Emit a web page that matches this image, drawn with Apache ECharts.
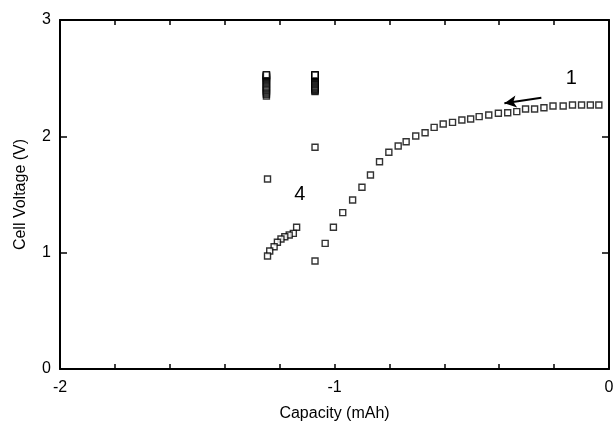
<!DOCTYPE html>
<html>
<head>
<meta charset="utf-8">
<script src="https://cdn.jsdelivr.net/npm/echarts@6/dist/echarts.min.js"></script>
<style>
html,body{margin:0;padding:0;background:#fff;}
#chart{width:616px;height:423px;}
</style>
</head>
<body>
<div id="chart"></div>
<script>
// Cycle 1 discharge: capacity (mAh) and cell voltage (V)
var cycle1Capacity = [-0.037,-0.068,-0.100,-0.133,-0.167,-0.204,-0.237,-0.271,-0.304,-0.336,-0.369,-0.403,-0.438,-0.473,-0.504,-0.536,-0.570,-0.604,-0.637,-0.670,-0.704,-0.739,-0.768,-0.802,-0.836,-0.869,-0.900,-0.934,-0.970,-1.004,-1.034,-1.071,
  -1.071,-1.071,-1.071,-1.071,-1.071,-1.071,-1.071,-1.071,-1.071,-1.071,-1.071,-1.071,-1.071,-1.071,-1.071,-1.071,-1.071,-1.071,-1.071,-1.071,-1.071,-1.071,-1.071,-1.071,-1.071,-1.071];
var cycle1Voltage = [2.269,2.269,2.269,2.269,2.261,2.261,2.246,2.235,2.235,2.212,2.203,2.198,2.183,2.169,2.149,2.140,2.120,2.106,2.077,2.031,2.003,1.954,1.917,1.863,1.782,1.668,1.562,1.453,1.344,1.218,1.080,0.928,
  1.906,2.384,2.392,2.400,2.408,2.416,2.424,2.432,2.440,2.448,2.456,2.464,2.472,2.480,2.488,2.496,2.502,2.508,2.513,2.517,2.520,2.523,2.525,2.527,2.527,2.527];
// Cycle 4 discharge
var cycle4Capacity = [-1.138,-1.150,-1.165,-1.181,-1.195,-1.208,-1.220,-1.236,-1.244,-1.244,
  -1.248,-1.248,-1.248,-1.248,-1.248,-1.248,-1.248,-1.248,-1.248,-1.248,-1.248,-1.248,-1.248,-1.248,-1.248,-1.248,-1.248,-1.248,-1.248,-1.248,-1.248,-1.248,-1.248];
var cycle4Voltage = [1.218,1.166,1.152,1.137,1.118,1.089,1.051,1.014,0.971,1.633,
  2.347,2.362,2.372,2.382,2.392,2.402,2.412,2.422,2.432,2.442,2.452,2.462,2.472,2.482,2.490,2.498,2.505,2.511,2.516,2.520,2.524,2.527,2.530];
// Annotations
var curveLabels = [{name:'1', x:-0.137, y:2.50}, {name:'4', x:-1.126, y:1.50}];
var arrowFrom = [-0.2465, 2.332];
var arrowTo = [-0.381, 2.284];
var xTickLabels = ['-2','-1','0'];
var yTickLabels = ['0','1','2','3'];

function pairs(xs, ys){ return xs.map(function(x,i){ return [x, ys[i]]; }); }

var FONT = 'Liberation Sans, Arial, Helvetica, sans-serif';
var chart = echarts.init(document.getElementById('chart'), null, {renderer:'canvas'});

function xAxisCfg(pos, showLabel){
  return {
    type:'value', position:pos, min:-2, max:0, interval:0.2,
    name: pos==='bottom' ? 'Capacity (mAh)' : '',
    nameLocation:'middle', nameGap:37,
    nameTextStyle:{color:'#000', fontSize:16, fontFamily:FONT},
    axisLine:{show:true, onZero:false, lineStyle:{color:'#000', width:2}},
    axisTick:{show:true, inside:true, length:5, lineStyle:{color:'#000', width:1.5}},
    axisLabel:{show:showLabel, margin:11, color:'#000', fontSize:16, fontFamily:FONT,
      formatter:function(v){ var r=Math.round(v); if(Math.abs(r-v)<1e-6){ var s=String(Math.abs(r)===0?0:r); return xTickLabels.indexOf(s)>=0?s:''; } return ''; }},
    splitLine:{show:false}
  };
}
function yAxisCfg(pos, showLabel){
  return {
    type:'value', position:pos, min:0, max:3, interval:1,
    name: pos==='left' ? 'Cell Voltage (V)' : '',
    nameLocation:'middle', nameGap:31, nameRotate:90,
    nameTextStyle:{color:'#000', fontSize:16, fontFamily:FONT},
    axisLine:{show:true, onZero:false, lineStyle:{color:'#000', width:2}},
    axisTick:{show:true, inside:true, length:7, lineStyle:{color:'#000', width:1.5}},
    axisLabel:{show:showLabel, margin:9, color:'#000', fontSize:16, fontFamily:FONT,
      formatter:function(v){ var s=String(Math.round(v)); return yTickLabels.indexOf(s)>=0?s:''; }},
    splitLine:{show:false}
  };
}

var markerStyle = {color:'#fff', borderColor:'#000', borderWidth:1.4};

chart.setOption({
  backgroundColor:'#fff',
  animation:false,
  grid:{left:60, right:7, top:20, bottom:54, containLabel:false, outerBoundsMode:'none'},
  xAxis:[xAxisCfg('bottom', true), xAxisCfg('top', false)],
  yAxis:[yAxisCfg('left', true), yAxisCfg('right', false)],
  series:[
    {type:'scatter', name:'cycle 1', data:pairs(cycle1Capacity, cycle1Voltage), symbol:'rect', symbolSize:6, itemStyle:markerStyle,
      markLine:{silent:true, symbol:['none','arrow'], symbolSize:[9,12], label:{show:false},
        lineStyle:{color:'#000', width:2, type:'solid'},
        data:[[{coord:arrowFrom, symbol:'none'},{coord:arrowTo, symbol:'arrow'}]]}},
    {type:'scatter', name:'cycle 4', data:pairs(cycle4Capacity, cycle4Voltage), symbol:'rect', symbolSize:6, itemStyle:markerStyle},
    {type:'scatter', name:'labels', symbol:'circle', symbolSize:1,
      itemStyle:{color:'rgba(0,0,0,0)', opacity:1},
      data:curveLabels.map(function(d){ return {name:d.name, value:[d.x, d.y]}; }),
      label:{show:true, position:'inside', formatter:'{b}', color:'#000', opacity:1, textBorderWidth:0, fontSize:20, fontFamily:FONT}}
  ]
});
</script>
</body>
</html>
